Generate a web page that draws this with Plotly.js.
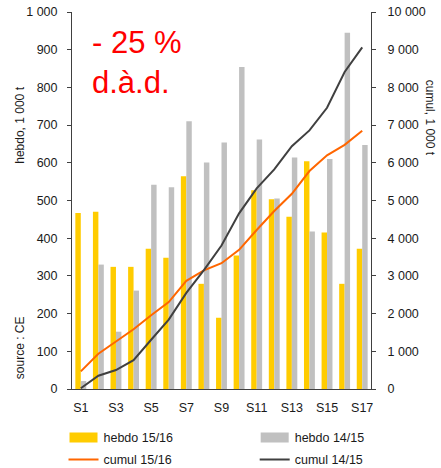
<!DOCTYPE html>
<html>
<head>
<meta charset="utf-8">
<script src="https://cdn.plot.ly/plotly-3.0.1.min.js"></script>
<style>html,body{margin:0;padding:0;background:#fff;}#chart{width:441px;height:468px;}</style>
</head>
<body>
<div id="chart"></div>
<script>
const weeks = ["S1","S2","S3","S4","S5","S6","S7","S8","S9","S10","S11","S12","S13","S14","S15","S16","S17"];
const weekTicks = ["S1","S3","S5","S7","S9","S11","S13","S15","S17"];
const hebdo1516 = [467, 470, 324, 324, 372, 348, 564, 279, 189, 354, 527, 503, 457, 604, 415, 279, 372];
const hebdo1415 = [21, 330, 152, 261, 542, 535, 710, 601, 654, 854, 662, 505, 614, 418, 610, 945, 647];
const cumul1516 = [467, 937, 1261, 1585, 1957, 2305, 2869, 3148, 3337, 3691, 4218, 4721, 5178, 5782, 6197, 6476, 6848];
const cumul1415 = [21, 351, 503, 764, 1306, 1841, 2551, 3152, 3806, 4660, 5322, 5827, 6441, 6859, 7460, 8410, 9060];
const leftTickVals = [0,100,200,300,400,500,600,700,800,900,1000];
const leftTickText = ["0","100","200","300","400","500","600","700","800","900","1 000"];
const rightTickVals = [0,1000,2000,3000,4000,5000,6000,7000,8000,9000,10000];
const rightTickText = ["0","1 000","2 000","3 000","4 000","5 000","6 000","7 000","8 000","9 000","10 000"];

const font = {family: "Liberation Sans, Arial, sans-serif", size: 12, color: "#1a1a1a"};
const tickFont = {family: "Liberation Sans, Arial, sans-serif", size: 12.5, color: "#1a1a1a"};

const traces = [
  {type: "bar", name: "hebdo 15/16", x: weeks, y: hebdo1516, marker: {color: "#FFCC00"}, legend: "legend"},
  {type: "bar", name: "hebdo 14/15", x: weeks, y: hebdo1415, marker: {color: "#C0C0C0"}, legend: "legend2"},
  {type: "scatter", mode: "lines", name: "cumul 15/16", x: weeks, y: cumul1516, yaxis: "y2", line: {color: "#FF6600", width: 2}, legend: "legend3"},
  {type: "scatter", mode: "lines", name: "cumul 14/15", x: weeks, y: cumul1415, yaxis: "y2", line: {color: "#404040", width: 2}, legend: "legend4"}
];

function leg(x, y) {
  return {orientation: "h", x: x, xanchor: "left", y: y, yanchor: "top",
          font: {family: "Liberation Sans, Arial, sans-serif", size: 12.5, color: "#1a1a1a"}, bgcolor: "rgba(0,0,0,0)"};
}

const layout = {
  width: 441, height: 468,
  margin: {l: 72, r: 70, t: 12, b: 79, autoexpand: false},
  paper_bgcolor: "#fff", plot_bgcolor: "#fff",
  font: font,
  barmode: "group", bargap: 0.38, bargroupgap: 0,
  showlegend: true,
  xaxis: {
    type: "category", tickmode: "array", tickvals: weekTicks, ticktext: weekTicks,
    showline: true, linecolor: "#404040", linewidth: 1, ticks: "", showgrid: false, zeroline: false,
    tickfont: tickFont, ticklabelstandoff: 7, fixedrange: true
  },
  yaxis: {
    range: [0, 1000], tickmode: "array", tickvals: leftTickVals, ticktext: leftTickText,
    showline: true, linecolor: "#404040", linewidth: 1, ticks: "outside", ticklen: 4, tickcolor: "#404040",
    showgrid: false, zeroline: false, tickfont: tickFont, ticklabelstandoff: 7
  },
  yaxis2: {
    range: [0, 10000], overlaying: "y", side: "right", tickmode: "array", tickvals: rightTickVals, ticktext: rightTickText,
    showline: true, linecolor: "#404040", linewidth: 1, ticks: "outside", ticklen: 4, tickcolor: "#404040",
    showgrid: false, zeroline: false, tickfont: tickFont, ticklabelstandoff: 9
  },
  legend: leg(-0.0284, -0.090),
  legend2: leg(0.611, -0.090),
  legend3: leg(-0.0284, -0.1485),
  legend4: leg(0.611, -0.1485),
  annotations: [
    {xref: "paper", yref: "paper", x: 0.06, y: 0.972, xanchor: "left", yanchor: "top", align: "left", showarrow: false,
     text: "- 25 %<br>d.à.d.", font: {family: "Liberation Sans, Arial, sans-serif", size: 31, color: "#FF0000"}},
    {xref: "paper", yref: "paper", x: -0.175, y: 0.7, xanchor: "center", yanchor: "middle", textangle: -90, showarrow: false,
     text: "hebdo, 1 000 t", font: font},
    {xref: "paper", yref: "paper", x: -0.175, y: 0.11, xanchor: "center", yanchor: "middle", textangle: -90, showarrow: false,
     text: "source : CE", font: font},
    {xref: "paper", yref: "paper", x: 1.2, y: 0.72, xanchor: "center", yanchor: "middle", textangle: 90, showarrow: false,
     text: "cumul, 1 000 t", font: font}
  ]
};

function widenBarSwatches() {
  // widen the bar swatches in every legend to match the reference's wide rectangles
  document.querySelectorAll("#chart g.legendpoints path.legendundefined, #chart g.legendpoints path.legendbar").forEach(function (p) {
    p.setAttribute("d", "M14,5H-14V-5H14Z");
  });
}

Plotly.newPlot("chart", traces, layout, {displayModeBar: false, staticPlot: true}).then(function () {
  widenBarSwatches();
  setTimeout(widenBarSwatches, 0);
  setTimeout(widenBarSwatches, 100);
});
</script>
</body>
</html>
